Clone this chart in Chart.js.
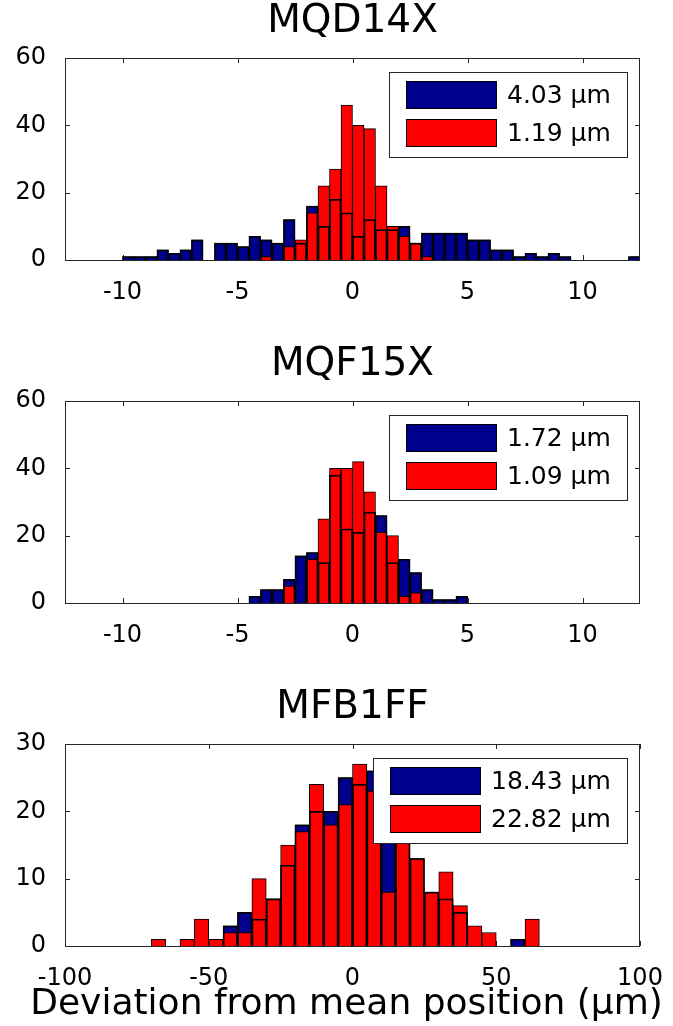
<!DOCTYPE html>
<html>
<head>
<meta charset="utf-8">
<title>Deviation histograms</title>
<script src="https://cdn.jsdelivr.net/npm/chart.js@4.4.1/dist/chart.umd.min.js"></script>
<style>
  html, body { margin: 0; padding: 0; background: #fff; }
  #page { position: relative; width: 673px; height: 1026px; overflow: hidden; }
  .panel { position: absolute; left: 0; }
</style>
</head>
<body>
<div id="page">
  <canvas id="panel1" class="panel" width="673" height="300" style="top:0px"></canvas>
  <canvas id="panel2" class="panel" width="673" height="300" style="top:343px"></canvas>
  <canvas id="panel3" class="panel" width="673" height="340" style="top:686px"></canvas>
</div>
<script>
// MQD14X: bin centres (0.5 um bins) and counts
const mqdBins = [-9.75, -9.25, -8.75, -8.25, -7.75, -7.25, -6.75, -6.25, -5.75, -5.25,
  -4.75, -4.25, -3.75, -3.25, -2.75, -2.25, -1.75, -1.25, -0.75, -0.25,
  0.25, 0.75, 1.25, 1.75, 2.25, 2.75, 3.25, 3.75, 4.25, 4.75,
  5.25, 5.75, 6.25, 6.75, 7.25, 7.75, 8.25, 8.75, 9.25, 9.75,
  10.25, 10.75, 11.25, 11.75, 12.25];
const mqdBlue = [1, 1, 1, 3, 2, 3, 6, 0, 5, 5,
  4, 7, 6, 5, 12, 5, 16, 10, 18, 14,
  7, 12, 9, 9, 10, 5, 8, 8, 8, 8,
  6, 6, 3, 3, 1, 2, 1, 2, 1, 0,
  0, 0, 0, 0, 1];
const mqdRed = [0, 0, 0, 0, 0, 0, 0, 0, 0, 0,
  0, 0, 1, 0, 4, 6, 14, 22, 27, 46,
  40, 39, 22, 10, 7, 5, 1, 0, 0, 0,
  0, 0, 0, 0, 0, 0, 0, 0, 0, 0,
  0, 0, 0, 0, 0];
const mqdLegend = ['4.03 \u03bcm', '1.19 \u03bcm'];

// MQF15X
const mqfBins = [-4.25, -3.75, -3.25, -2.75, -2.25, -1.75, -1.25, -0.75, -0.25,
  0.25, 0.75, 1.25, 1.75, 2.25, 2.75, 3.25, 3.75, 4.25, 4.75];
const mqfBlue = [2, 4, 4, 7, 14, 15, 12, 38, 22, 21, 27, 26, 12, 13, 9, 4, 1, 1, 2];
const mqfRed = [0, 0, 0, 5, 0, 13, 25, 40, 40, 42, 33, 21, 20, 2, 3, 0, 0, 0, 0];
const mqfLegend = ['1.72 \u03bcm', '1.09 \u03bcm'];

// MFB1FF (5 um bins)
const mfbBins = [-67.5, -62.5, -57.5, -52.5, -47.5, -42.5, -37.5, -32.5, -27.5,
  -22.5, -17.5, -12.5, -7.5, -2.5, 2.5, 7.5, 12.5, 17.5, 22.5,
  27.5, 32.5, 37.5, 42.5, 47.5, 52.5, 57.5, 62.5];
const mfbBlue = [0, 0, 0, 0, 0, 3, 5, 4, 7, 12, 18, 20, 20, 25, 24, 26, 20, 16, 13,
  8, 7, 5, 0, 0, 0, 1, 0];
const mfbRed = [1, 0, 1, 4, 1, 2, 2, 10, 7, 15, 17, 24, 18, 21, 27, 23, 8, 16, 13,
  8, 11, 6, 3, 2, 0, 0, 4];
const mfbLegend = ['18.43 \u03bcm', '22.82 \u03bcm'];

// axis ticks
const smallXTicks = [-10, -5, 0, 5, 10];
const wideXTicks = [-100, -50, 0, 50, 100];
const countTicks60 = [0, 20, 40, 60];
const countTicks30 = [0, 10, 20, 30];

const BLUE = '#00008f';
const RED = '#ff0000';
const EDGE = '#000000';
const AXIS = '#262626';
const FONT = 'DejaVu Sans';

// box + inward tick marks, like the old plotting style
const framePlugin = {
  id: 'frame',
  beforeDatasetsDraw(chart) {
    const { ctx, chartArea: a, scales } = chart;
    ctx.save();
    ctx.strokeStyle = AXIS;
    ctx.lineWidth = 1;
    ctx.beginPath();
    scales.x.ticks.forEach(t => {
      const px = Math.round(scales.x.getPixelForValue(t.value)) + 0.5;
      ctx.moveTo(px, a.top); ctx.lineTo(px, a.top + 5);
      ctx.moveTo(px, a.bottom); ctx.lineTo(px, a.bottom - 5);
    });
    scales.y.ticks.forEach(t => {
      const py = Math.round(scales.y.getPixelForValue(t.value)) + 0.5;
      ctx.moveTo(a.left, py); ctx.lineTo(a.left + 5, py);
      ctx.moveTo(a.right, py); ctx.lineTo(a.right - 5, py);
    });
    ctx.stroke();
    ctx.restore();
  },
  afterDatasetsDraw(chart) {
    const { ctx, chartArea: a } = chart;
    ctx.save();
    ctx.strokeStyle = AXIS;
    ctx.lineWidth = 1;
    ctx.strokeRect(Math.round(a.left) + 0.5, Math.round(a.top) + 0.5,
      Math.round(a.width) - 1, Math.round(a.height));
    ctx.restore();
  }
};

// legend drawn as a framed box in the upper right of the plot
const boxLegend = {
  id: 'boxLegend',
  afterDraw(chart, args, opts) {
    const { ctx, chartArea: a } = chart;
    ctx.save();
    ctx.font = '25px "' + FONT + '"';
    const textW = Math.max(...opts.labels.map(l => ctx.measureText(l).width));
    const w = Math.round(17 + 91 + 10 + textW + 16);
    const h = 85;
    const x0 = Math.round(a.right - 13 - w);
    const y0 = Math.round(a.top + 14);
    ctx.fillStyle = '#fff';
    ctx.fillRect(x0, y0, w, h);
    ctx.strokeStyle = AXIS;
    ctx.lineWidth = 1;
    ctx.strokeRect(x0 + 0.5, y0 + 0.5, w, h);
    opts.labels.forEach((label, i) => {
      const sy = y0 + 9 + i * 38;
      ctx.fillStyle = opts.colors[i];
      ctx.fillRect(x0 + 17, sy, 91, 28);
      ctx.strokeStyle = EDGE;
      ctx.strokeRect(x0 + 17.5, sy + 0.5, 90, 27);
      ctx.fillStyle = '#000';
      ctx.textBaseline = 'middle';
      ctx.textAlign = 'left';
      ctx.fillText(label, x0 + 17 + 91 + 10, sy + 15);
    });
    ctx.restore();
  }
};

// panel title over the plot box, and the x label under the last panel;
// drawn by hand so both centre on the plot and are not squeezed to its width
const panelText = {
  id: 'panelText',
  afterDraw(chart, args, opts) {
    const { ctx, chartArea: a } = chart;
    const cx = (a.left + a.right) / 2;
    ctx.save();
    ctx.fillStyle = '#000';
    ctx.textAlign = 'center';
    ctx.textBaseline = 'alphabetic';
    ctx.font = '39px "' + FONT + '"';
    ctx.fillText(opts.title, cx, a.top - 26);
    if (opts.xLabel) {
      ctx.font = '36px "' + FONT + '"';
      ctx.fillText(opts.xLabel, cx - 6, chart.height - 12);
    }
    ctx.restore();
  }
};

function toPoints(bins, counts) {
  return bins.map((b, i) => ({ x: b, y: counts[i] }));
}

function makePanel(id, title, bins, blue, red, legend, xRange, xTicks, yTicks, xLabel) {
  const ctx = document.getElementById(id);
  const bar = {
    borderColor: EDGE,
    borderWidth: 1,
    barPercentage: 1,
    categoryPercentage: 1,
    grouped: false
  };
  return new Chart(ctx, {
    type: 'bar',
    data: {
      datasets: [
        // blue first, red over it, then the blue edges on top so its outline shows through
        Object.assign({ label: legend[0], data: toPoints(bins, blue), backgroundColor: BLUE, order: 3 }, bar),
        Object.assign({ label: legend[1], data: toPoints(bins, red), backgroundColor: RED, order: 2 }, bar),
        Object.assign({ label: 'edges', data: toPoints(bins, blue), backgroundColor: 'rgba(0,0,0,0)', order: 1 }, bar)
      ]
    },
    options: {
      responsive: false,
      animation: false,
      layout: { padding: { left: 0, right: 33, top: 58, bottom: 0 } },
      plugins: {
        legend: { display: false },
        tooltip: { enabled: false },
        title: { display: false },
        boxLegend: { labels: legend, colors: [BLUE, RED] },
        panelText: { title: title, xLabel: xLabel || '' }
      },
      scales: {
        x: {
          type: 'linear',
          offset: false,
          min: xRange[0],
          max: xRange[1],
          grid: { display: false },
          border: { display: false },
          ticks: { color: '#000', font: { family: FONT, size: 24 }, padding: 10, maxRotation: 0, autoSkip: false },
          afterBuildTicks: s => { s.ticks = xTicks.map(v => ({ value: v })); },
          afterFit: s => { s.height = xLabel ? 80 : 40; }
        },
        y: {
          min: yTicks[0],
          max: yTicks[yTicks.length - 1],
          grid: { display: false },
          border: { display: false },
          ticks: { color: '#000', font: { family: FONT, size: 24 }, padding: 11 },
          afterBuildTicks: s => { s.ticks = yTicks.map(v => ({ value: v })); },
          afterFit: s => { s.width = 65; }
        }
      }
    },
    plugins: [framePlugin, boxLegend, panelText]
  });
}

makePanel('panel1', 'MQD14X', mqdBins, mqdBlue, mqdRed, mqdLegend, [-12.5, 12.5], smallXTicks, countTicks60);
makePanel('panel2', 'MQF15X', mqfBins, mqfBlue, mqfRed, mqfLegend, [-12.5, 12.5], smallXTicks, countTicks60);
makePanel('panel3', 'MFB1FF', mfbBins, mfbBlue, mfbRed, mfbLegend, [-100, 100], wideXTicks, countTicks30,
  'Deviation from mean position (\u03bcm)');
</script>
</body>
</html>
